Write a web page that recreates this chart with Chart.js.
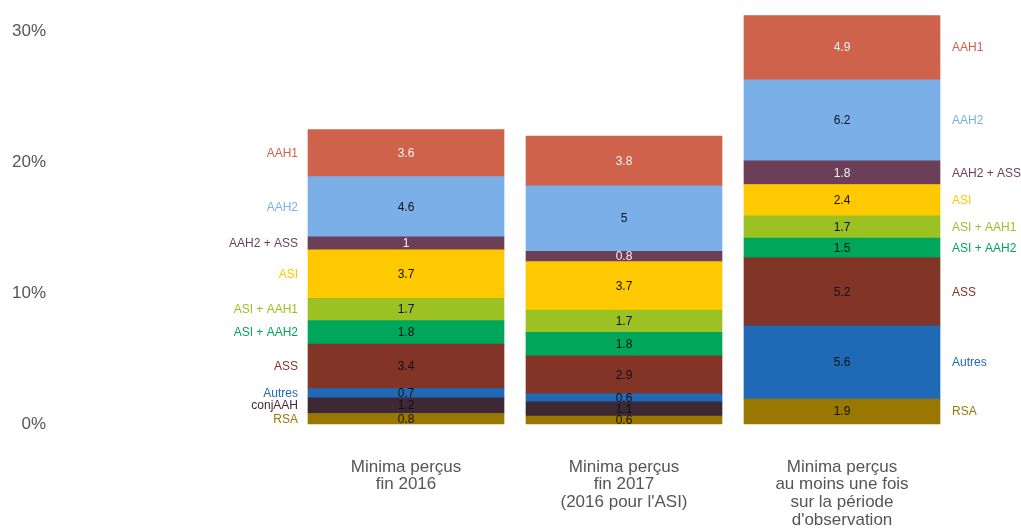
<!DOCTYPE html>
<html>
<head>
<meta charset="utf-8">
<script src="https://cdn.jsdelivr.net/npm/chart.js@4/dist/chart.umd.min.js"></script>
<style>
  html, body { margin: 0; padding: 0; background: #fff; }
  #wrap { width: 1021px; height: 529px; position: relative; }
</style>
</head>
<body>
<div id="wrap"><canvas id="c"></canvas></div>
<script>
// ---- Data ----
const categories = [
  ["Minima perçus", "fin 2016"],
  ["Minima perçus", "fin 2017", "(2016 pour l'ASI)"],
  ["Minima perçus", "au moins une fois", "sur la période", "d'observation"]
];
const seriesNames = ['RSA', 'conjAAH', 'Autres', 'ASS', 'ASI + AAH2', 'ASI + AAH1', 'ASI', 'AAH2 + ASS', 'AAH2', 'AAH1'];
const rsa      = [0.8, 0.6, 1.9];
const conjAAH  = [1.2, 1.1, null];
const autres   = [0.7, 0.6, 5.6];
const ass      = [3.4, 2.9, 5.2];
const asiAah2  = [1.8, 1.8, 1.5];
const asiAah1  = [1.7, 1.7, 1.7];
const asi      = [3.7, 3.7, 2.4];
const aah2Ass  = [1, 0.8, 1.8];
const aah2     = [4.6, 5, 6.2];
const aah1     = [3.6, 3.8, 4.9];
const yTickValues = [0, 10, 20, 30];

const seriesValues = [rsa, conjAAH, autres, ass, asiAah2, asiAah1, asi, aah2Ass, aah2, aah1];
const seriesColors = ['#9a7800', '#3f2835', '#1f69b7', '#823426', '#00a65a', '#9bc123', '#ffc900', '#6b3f58', '#7aafe8', '#cf624a'];
const valueTextColors = ['#111', '#111', '#111', '#111', '#111', '#111', '#111', '#f2f2f2', '#111', '#f2f2f2'];

const datasets = seriesNames.map((name, i) => ({
  label: name,
  data: seriesValues[i].map((v, j) => ({ x: j + 1, y: v })),
  backgroundColor: seriesColors[i],
  borderWidth: 0,
  barThickness: 196,
  clip: false
}));

const labelPlugin = {
  id: 'segLabels',
  afterDatasetsDraw(chart) {
    const ctx = chart.ctx;
    ctx.save();
    ctx.font = '12px "Liberation Sans", Arial, sans-serif';
    ctx.textBaseline = 'middle';
    chart.data.datasets.forEach((ds, i) => {
      const meta = chart.getDatasetMeta(i);
      meta.data.forEach((el, j) => {
        const v = seriesValues[i][j];
        if (v === null || v === undefined) return;
        const cy = (el.y + el.base) / 2;
        ctx.textAlign = 'center';
        ctx.fillStyle = valueTextColors[i];
        ctx.fillText(String(v), el.x, cy + 0.5);
        if (j === 0) {
          ctx.textAlign = 'right';
          ctx.fillStyle = seriesColors[i];
          ctx.fillText(seriesNames[i], el.x - el.width / 2 - 10, cy + 0.5);
        } else if (j === 2) {
          ctx.textAlign = 'left';
          ctx.fillStyle = seriesColors[i];
          ctx.fillText(seriesNames[i], el.x + el.width / 2 + 12, cy + 0.5);
        }
      });
    });
    ctx.restore();
  }
};

new Chart(document.getElementById('c'), {
  type: 'bar',
  data: { datasets },
  plugins: [labelPlugin],
  options: {
    responsive: true,
    maintainAspectRatio: false,
    animation: false,
    layout: { autoPadding: false, padding: { left: 0, right: 70, top: 5, bottom: 0 } },
    plugins: { legend: { display: false }, tooltip: { enabled: false } },
    scales: {
      x: {
        type: 'linear',
        stacked: true,
        offset: false,
        min: -0.6055,
        max: 3.5,
        grid: { display: false, drawTicks: false },
        border: { display: false },
        afterFit(scale) { scale.height = 105; },
        afterBuildTicks(scale) { scale.ticks = [1, 2, 3].map(v => ({ value: v })); },
        ticks: {
          autoSkip: false,
          maxRotation: 0,
          padding: 34,
          color: '#555',
          font: { family: '"Liberation Sans", Arial, sans-serif', size: 17, lineHeight: 1.04 },
          callback: (v) => categories[v - 1] || ''
        }
      },
      y: {
        stacked: true,
        min: 0,
        max: 30.85,
        grid: { display: false, drawTicks: false },
        border: { display: false },
        afterFit(scale) { scale.width = 56; },
        afterBuildTicks(scale) { scale.ticks = yTickValues.map(v => ({ value: v })); },
        ticks: {
          padding: 10,
          color: '#555',
          font: { family: '"Liberation Sans", Arial, sans-serif', size: 17 },
          callback: (v) => v + '%'
        }
      }
    }
  }
});
</script>
</body>
</html>
